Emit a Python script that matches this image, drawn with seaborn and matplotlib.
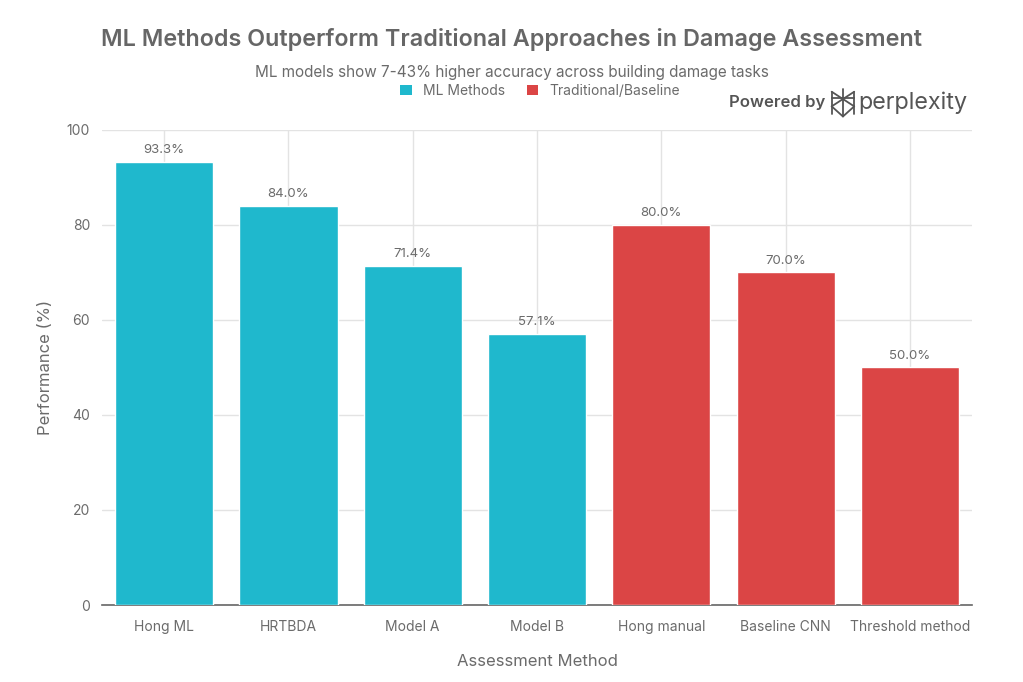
import matplotlib
matplotlib.use("Agg")
import matplotlib.pyplot as plt
import seaborn as sns
import pandas as pd
from matplotlib.patches import Patch

methods = ["Hong ML", "HRTBDA", "Model A", "Model B", "Hong manual", "Baseline CNN", "Threshold method"]
performance = [93.3, 84.0, 71.4, 57.1, 80.0, 70.0, 50.0]
groups = ["ML Methods", "ML Methods", "ML Methods", "ML Methods",
          "Traditional/Baseline", "Traditional/Baseline", "Traditional/Baseline"]
group_names = ["ML Methods", "Traditional/Baseline"]
colors = ["#1FB8CD", "#DB4545"]
yticks = [0, 20, 40, 60, 80, 100]

df = pd.DataFrame({"Method": methods, "Performance": performance, "Group": groups})

sns.set_theme(style="white")
plt.rcParams['font.family'] = ['Inter', 'DejaVu Sans']
txt = "#6b6b6b"

fig = plt.figure(figsize=(10.23, 6.82), dpi=100)
ax = fig.add_axes([0.0997, 0.1129, 0.8505, 0.6965])

sns.barplot(data=df, x="Method", y="Performance", hue="Group", order=methods,
            hue_order=group_names, palette=colors, dodge=False, width=0.79,
            ax=ax, legend=False, saturation=1, zorder=3)

for i, v in enumerate(performance):
    ax.text(i, v + 1.2, f"{v:.1f}%", ha="center", va="bottom", fontsize=9.5, color=txt, zorder=4)

ax.set_xlim(-0.5, 6.5)
ax.set_ylim(0, 100)
ax.set_yticks(yticks)
ax.grid(True, axis="both", color="#e3e3e3", linewidth=1, zorder=0)
ax.set_axisbelow(True)
for s in ["top", "right", "left"]:
    ax.spines[s].set_visible(False)
ax.spines["bottom"].set_color("#666666")
ax.spines["bottom"].set_linewidth(1.2)
ax.tick_params(axis="both", colors="#cccccc", length=5, width=1, labelcolor=txt, labelsize=10)
ax.tick_params(axis="x", pad=6)
ax.set_xlabel("Assessment Method", fontsize=12, color=txt, labelpad=14)
ax.set_ylabel("Performance (%)", fontsize=12, color=txt, labelpad=10)

fig.text(0.5, 0.942, "ML Methods Outperform Traditional Approaches in Damage Assessment",
         ha="center", va="center", fontsize=16.8, fontweight="semibold", color="#666666")
fig.text(0.5, 0.893, "ML models show 7-43% higher accuracy across building damage tasks",
         ha="center", va="center", fontsize=11, color=txt)

handles = [Patch(facecolor=c, edgecolor="none") for c in colors]
fig.legend(handles, group_names, loc="center", bbox_to_anchor=(0.528, 0.867), ncol=2,
           frameon=False, fontsize=10, labelcolor=txt, handlelength=0.8, handleheight=0.8,
           handletextpad=0.8, columnspacing=1.6)

# Powered by perplexity badge
fig.text(0.713, 0.849, "Powered by", ha="left", va="center", fontsize=12,
         fontweight="semibold", color="#555555")
lx, ly = 0.824, 0.849
s = 0.011
sy = s * 1023 / 682
icon = [((0, -1.2), (0, 1.2)), ((-1, 1.0), (1, -0.3)), ((1, 1.0), (-1, -0.3)),
        ((-1, 0.4), (-1, -1.0)), ((1, 0.4), (1, -1.0)), ((-1, 1.0), (-1, 0.4)),
        ((1, 1.0), (1, 0.4)), ((-1, -0.3), (0, -1.2)), ((1, -0.3), (0, -1.2)),
        ((-1, 0.4), (1, 0.4))]
for (a, b) in icon:
    fig.add_artist(plt.Line2D([lx + a[0] * s, lx + b[0] * s], [ly + a[1] * sy, ly + b[1] * sy],
                              color="#555555", linewidth=1.3, transform=fig.transFigure))
fig.text(0.839, 0.849, "perplexity", ha="left", va="center", fontsize=16.8, color="#555555")

fig.savefig("out.png", dpi=100, facecolor="white")
